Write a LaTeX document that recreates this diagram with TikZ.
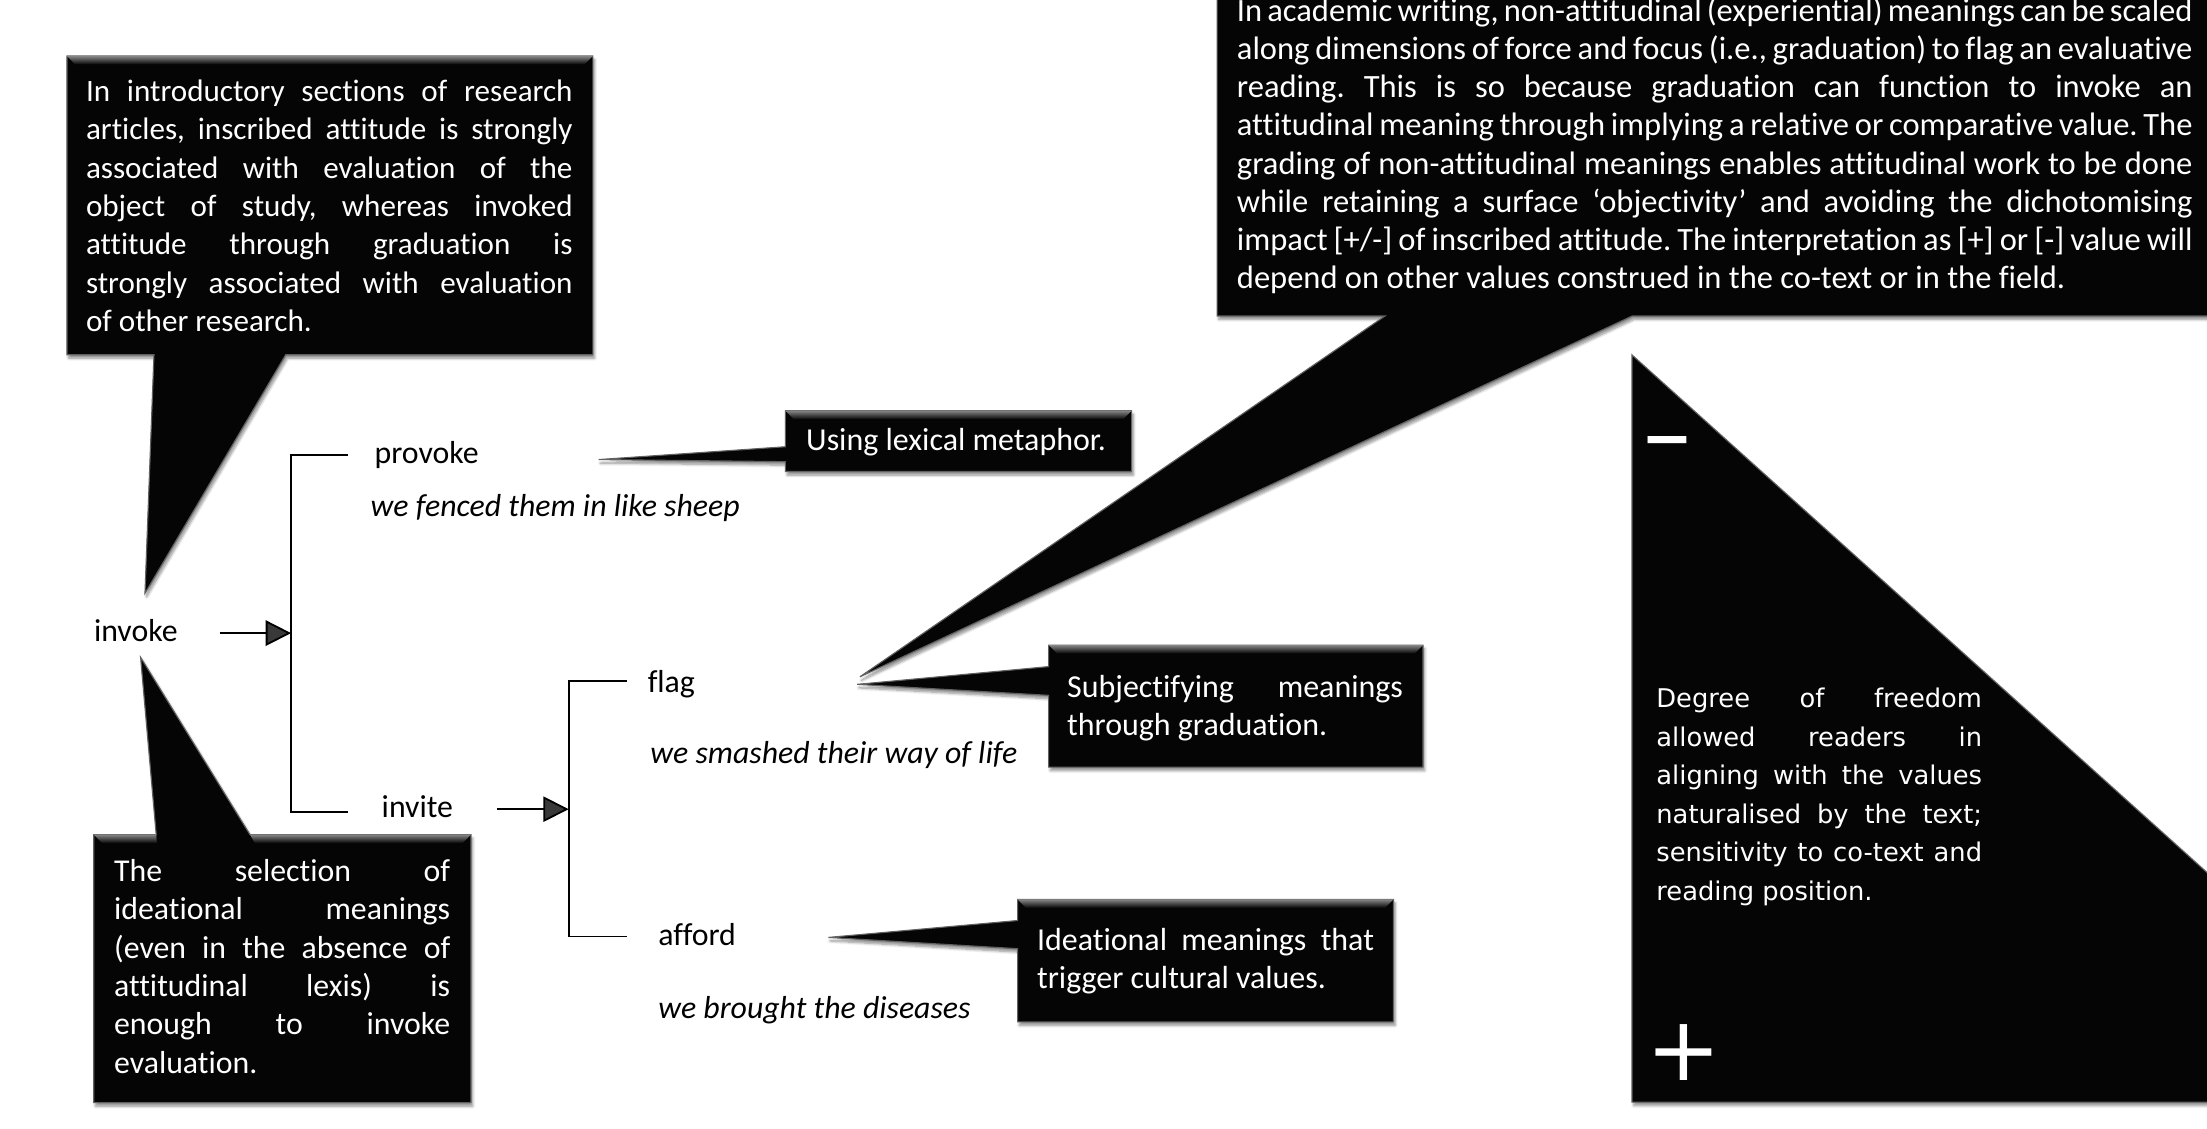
\documentclass[tikz,border=0pt]{standalone}
\usepackage{fontspec}
\setmainfont{Carlito}[Ligatures={NoCommon}]
\newfontfamily\dejavu{DejaVu Sans}
\usetikzlibrary{arrows.meta,shadows.blur}
\newcommand\parasetup{\frenchspacing\tolerance=10000\relax\hyphenpenalty=10000\relax\hbadness=10000\relax}
\newcommand\fsz[1]{\fontsize{#1}{27.2}\selectfont}
\newcommand\bevtop[3]{\shade[top color=black!48, bottom color=black!98]
  (#1,#3) -- (#2,#3) -- ({#2-6},{#3+6}) -- ({#1+6},{#3+6}) -- cycle;}
\begin{document}
\begin{tikzpicture}[x=1pt,y=-1pt,
  lbl/.style={inner sep=0pt, anchor=base west, font=\fsz{22.6}},
  ex/.style={inner sep=0pt, anchor=base west, font=\fsz{22.6}\itshape},
  para/.style={inner sep=0pt, anchor=base west, text=white, align=justify},
  bubble/.style={fill=black!98, draw=black!62, line width=0.8pt, line join=miter,
    blur shadow={shadow xshift=1.2pt, shadow yshift=-2.5pt, shadow blur steps=6, shadow opacity=45}},
  conn/.style={line width=1.3pt},
  arr/.style={conn, -{Triangle[length=18pt,width=18pt]}},
  sign/.style={inner sep=0pt, anchor=base, text=white},
]
\useasboundingbox (0,0) rectangle (1568,802);
\clip (0,0) rectangle (1568,802);

% ---------- callout shapes ----------
% A: top-left
\path[bubble] (47.6,39.8) -- (421.2,39.8) -- (421.2,252) -- (203,252) -- (103,421.5)
  -- (109.4,252) -- (47.6,252) -- cycle;
\bevtop{47.6}{421.2}{39.8}
% B: bottom-left
\path[bubble] (66.6,593) -- (111,593) -- (99.9,467) -- (177.6,593) -- (334.6,593)
  -- (334.6,783.4) -- (66.6,783.4) -- cycle;
\shade[top color=black!48, bottom color=black!98] (66.6,593) -- (111,593) -- (111.5,599) -- (72.6,599) -- cycle;
\shade[top color=black!48, bottom color=black!98] (177.6,593) -- (334.6,593) -- (328.6,599) -- (181,599) -- cycle;
% C: lexical metaphor
\path[bubble] (558,291.8) -- (804,291.8) -- (804,335) -- (558,335) -- (558,328)
  -- (425.3,326.5) -- (558,317.4) -- cycle;
\bevtop{558}{804}{291.8}
% F: big top-right
\path[bubble] (864.7,-30) -- (1600,-30) -- (1600,224.5) -- (1159.6,224.5) -- (611,480.8)
  -- (984,224.5) -- (864.7,224.5) -- cycle;
% D: subjectifying
\path[bubble] (745,458.3) -- (1011,458.3) -- (1011,545) -- (745,545) -- (745,494)
  -- (609,486.2) -- (745,473.6) -- cycle;
\bevtop{745}{1011}{458.3}
% E: ideational
\path[bubble] (723,639) -- (990,639) -- (990,726) -- (723,726) -- (723,674)
  -- (588.5,666) -- (723,654) -- cycle;
\bevtop{723}{990}{639}
% G: triangle
\path[bubble] (1159.5,252.2) -- (1600,648.7) -- (1600,783) -- (1159.5,783) -- cycle;

% ---------- callout texts ----------
\node[para, text width=345.7pt, font=\fsz{22.1}\parasetup] (tA) at (60.9,72.2) {In introductory sections of research\linebreak
articles, inscribed attitude is strongly\linebreak
associated with evaluation of the\linebreak
object of study, whereas invoked\linebreak
attitude through graduation is\linebreak
strongly associated with evaluation\linebreak
of other research.};

\node[para, text width=238.8pt, font=\fsz{22.6}\parasetup] (tB) at (80.9,626.4) {The selection of\linebreak
ideational meanings\linebreak
(even in the absence of\linebreak
attitudinal lexis) is\linebreak
enough to invoke\linebreak
evaluation.};

\node[lbl, text=white, font=\fsz{22.7}] (tC) at (572.6,320.2) {Using lexical metaphor.};

\node[para, text width=238.6pt, font=\fsz{22.7}\parasetup] (tD) at (758,495.5) {Subjectifying meanings\linebreak
through graduation.};

\node[para, text width=239.4pt, font=\fsz{22.7}\parasetup] (tE) at (736.6,675) {Ideational meanings that\linebreak
trigger cultural values.};

\node[para, text width=679pt, font=\fontsize{23.1}{27.07}\selectfont\parasetup] (tF) at (878.6,15.4) {In academic writing, non-attitudinal (experiential) meanings can be scaled\linebreak
along dimensions of force and focus (i.e., graduation) to flag an evaluative\linebreak
reading. This is so because graduation can function to invoke an\linebreak
attitudinal meaning through implying a relative or comparative value. The\linebreak
grading of non-attitudinal meanings enables attitudinal work to be done\linebreak
while retaining a surface ‘objectivity’ and avoiding the dichotomising\linebreak
impact [+/-] of inscribed attitude. The interpretation as [+] or [-] value will\linebreak
depend on other values construed in the co-text or in the field.};

\node[para, text width=231.4pt, font=\dejavu\fontsize{18.3}{27.3}\selectfont\parasetup]
  (tG) at (1176.6,503) {Degree of freedom\linebreak
allowed readers in\linebreak
aligning with the values\linebreak
naturalised by the text;\linebreak
sensitivity to co-text and\linebreak
reading position.};

\node[sign, font=\dejavu\bfseries\fontsize{44}{44}\selectfont] (minus) at (1185,326.4) {−};
\node[sign, font=\dejavu\fontsize{63.4}{63.4}\selectfont] (plus) at (1196.6,767.8) {+};

% ---------- system network ----------
\node[lbl] (invoke) at (66.6,455.5) {invoke};
\node[lbl] (provoke) at (266,329.6) {provoke};
\node[ex] (exprovoke) at (263.2,367) {we fenced them in like sheep};
\node[lbl] (invite) at (271,581) {invite};
\node[lbl] (flag) at (460,492.3) {flag};
\node[ex] (exflag) at (461.9,542.3) {we smashed their way of life};
\node[lbl] (afford) at (467.5,672) {afford};
\node[ex] (exafford) at (467.5,723.5) {we brought the diseases};

\coordinate (s1) at (156,449.8);
\coordinate (b1) at (206.8,449.8);
\coordinate (p1) at (247.4,323.4);
\coordinate (p2) at (247.4,576.8);
\draw[arr] (s1) -- (b1);
\draw[conn] (p1) -| (b1) |- (p2);

\coordinate (s2) at (353,574.9);
\coordinate (b2) at (404,574.9);
\coordinate (q1) at (445.5,484);
\coordinate (q2) at (445.5,665.3);
\draw[arr] (s2) -- (b2);
\draw[conn] (q1) -| (b2) |- (q2);
\end{tikzpicture}
\end{document}
